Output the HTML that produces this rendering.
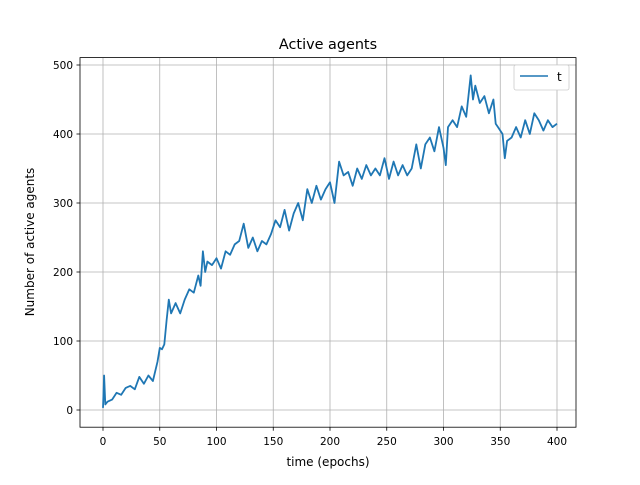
<!DOCTYPE html>
<html><head><meta charset="utf-8"><style>
body{margin:0;background:#fff;font-family:"Liberation Sans","DejaVu Sans",sans-serif}
svg text{font-family:"DejaVu Sans","Liberation Sans",sans-serif}
</style></head><body>
<svg id="chart" width="640" height="480" viewBox="0 0 640 480" xmlns="http://www.w3.org/2000/svg">
<rect width="640" height="480" fill="#fff"/>
<g id="grid"></g>
<g id="ticks"></g>
<path id="series" fill="none" stroke="#1f77b4" stroke-width="1.8" stroke-linejoin="round"/>
<rect x="80" y="57.6" width="496" height="369.6" fill="none" stroke="#000" stroke-width="0.8"/>
<text x="328" y="49" font-size="14.4" text-anchor="middle">Active agents</text>
<text x="328" y="466" font-size="12" text-anchor="middle">time (epochs)</text>
<text x="34" y="242" font-size="12" text-anchor="middle" transform="rotate(-90 34 242)">Number of active agents</text>
<g>
<rect x="514" y="65" width="55" height="25" rx="2" fill="#fff" stroke="#ccc" stroke-width="0.8"/>
<line x1="520" y1="76" x2="548" y2="76" stroke="#1f77b4" stroke-width="1.5"/>
<text x="557" y="81" font-size="12">t</text>
</g>
</svg>
<script>
const xVals=[0,1,2,4,8,12,16,20,24,28,32,36,40,44,48,50,52,54,56,58,60,64,68,72,76,80,84,86,88,90,92,96,100,104,108,112,116,120,124,128,132,136,140,144,148,152,156,160,164,168,172,176,180,184,188,192,196,200,204,208,212,216,220,224,228,232,236,240,244,248,252,256,260,264,268,272,276,280,284,288,292,296,300,302,304,308,312,316,320,324,326,328,332,336,340,344,346,348,352,354,356,360,364,368,372,376,380,384,388,392,396,400];
const yVals=[3,50,8,12,15,25,22,32,35,30,48,38,50,42,70,90,88,95,130,160,140,155,140,160,175,170,195,180,230,200,215,210,220,205,230,225,240,245,270,235,250,230,245,240,255,275,265,290,260,285,300,275,320,300,325,305,320,330,300,360,340,345,325,350,335,355,340,350,340,365,335,360,340,355,340,350,385,350,385,395,375,410,380,355,410,420,410,440,425,485,450,470,445,455,430,450,415,410,400,365,390,395,410,395,420,400,430,420,405,420,410,415];
const xTicks=[0,50,100,150,200,250,300,350,400];
const yTicks=[0,100,200,300,400,500];
const sx=v=>103+v*454/400;
const sy=v=>410-v*0.69;
const g=document.getElementById('grid'),t=document.getElementById('ticks'),NS='http://www.w3.org/2000/svg';
function mk(tag,a,p){const e=document.createElementNS(NS,tag);for(const k in a)e.setAttribute(k,a[k]);p.appendChild(e);return e;}
xTicks.forEach(v=>{const x=sx(v);
const l=mk('line',{x1:x,x2:x,y1:57.6,y2:427.2,stroke:'#b0b0b0','stroke-width':0.8},g);


mk('line',{x1:x,x2:x,y1:427.2,y2:430.7,stroke:'#000','stroke-width':0.8},t);
const tx=mk('text',{x:x,y:445,'font-size':10.5,'text-anchor':'middle'},t);tx.textContent=v;

});
yTicks.forEach(v=>{const y=sy(v);
const l=mk('line',{x1:80,x2:576,y1:y,y2:y,stroke:'#b0b0b0','stroke-width':0.8},g);


mk('line',{x1:76.5,x2:80,y1:y,y2:y,stroke:'#000','stroke-width':0.8},t);
const tx=mk('text',{x:73,y:y+4,'font-size':10.5,'text-anchor':'end'},t);tx.textContent=v;

});
document.getElementById('series').setAttribute('d',xVals.map((x,i)=>(i?'L':'M')+sx(x).toFixed(1)+','+sy(yVals[i]).toFixed(1)).join(''));
</script>
</body></html>
